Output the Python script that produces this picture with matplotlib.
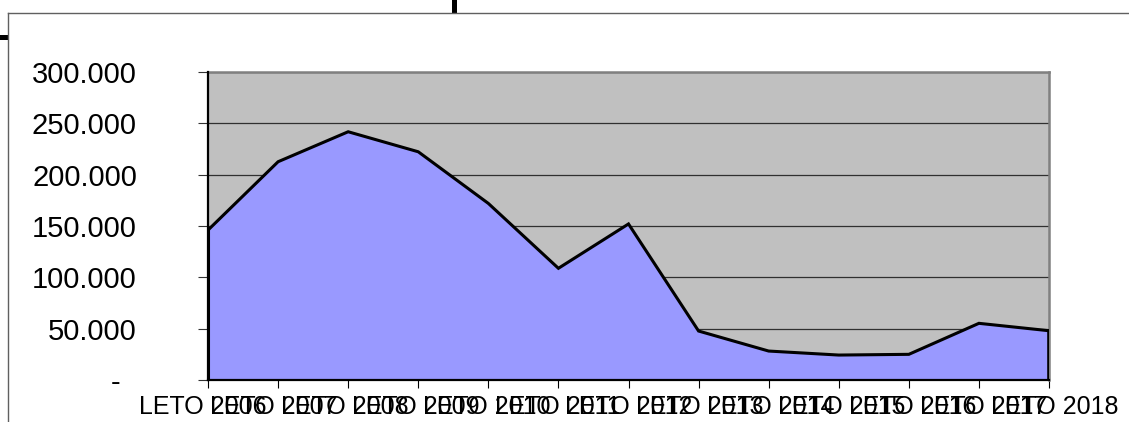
import matplotlib
matplotlib.use("Agg")
import matplotlib.pyplot as plt
from matplotlib.lines import Line2D
from matplotlib.patches import Rectangle
from matplotlib.transforms import ScaledTranslation

plt.rcParams['font.family'] = ['Liberation Sans', 'DejaVu Sans']

years = ["LETO 2006", "LETO 2007", "LETO 2008", "LETO 2009", "LETO 2010",
         "LETO 2011", "LETO 2012", "LETO 2013", "LETO 2014", "LETO 2015",
         "LETO 2016", "LETO 2017", "LETO 2018"]
values = [146000, 212600, 241800, 222300, 172000, 108800, 152000,
          47700, 28200, 24300, 25000, 55200, 48000]
yticks = [0, 50000, 100000, 150000, 200000, 250000, 300000]

W, H = 1129, 422
fig = plt.figure(figsize=(W / 100, H / 100), dpi=100)
fig.patch.set_facecolor('white')

left, right, top, bottom = 208, 1049, 72, 380
ax = fig.add_axes([left / W, 1 - bottom / H, (right - left) / W, (bottom - top) / H])
ax.set_facecolor('#C0C0C0')

x = list(range(len(values)))
ax.fill_between(x, values, 0, facecolor='#9999FF', edgecolor='none', zorder=2)
ax.plot(x, values, color='black', lw=2.2, zorder=3, solid_joinstyle='miter')
ax.plot([x[0], x[0]], [0, values[0]], color='black', lw=2.2, zorder=3)
ax.plot([x[-1], x[-1]], [0, values[-1]], color='black', lw=2.6, zorder=3)

ax.set_xlim(0, len(values) - 1)
ax.set_ylim(0, 300000)
ax.set_yticks(yticks)
ylabels = ['-\u2007' if v == 0 else f"{v:,.0f}".replace(',', '.') for v in yticks]
ax.set_yticklabels(ylabels, fontsize=21)
ax.set_xticks(x)
ax.set_xticklabels(years, fontsize=18)

ax.tick_params(axis='y', direction='out', length=7.2, width=0.8, color='#333333', pad=44)
ax.tick_params(axis='x', direction='out', length=5.8, width=0.8, color='black', pad=4.8)

# slight spreading of the overlapping category labels, as in the original rendering
for i, lab in enumerate(ax.get_xticklabels()):
    dx = (-5.0 + i * 0.9) / 100.0
    lab.set_transform(lab.get_transform() + ScaledTranslation(dx, 0, fig.dpi_scale_trans))

ax.set_axisbelow(True)
ax.grid(axis='y', color='#303030', lw=0.9)
ax.grid(axis='x', visible=False)

for s in ['left', 'bottom']:
    ax.spines[s].set_color('black')
    ax.spines[s].set_linewidth(1.6)
    ax.spines[s].set_zorder(4)
for s in ['top', 'right']:
    ax.spines[s].set_color('#808080')
    ax.spines[s].set_linewidth(1.8)

# outer chart border (top and left visible)
fig.add_artist(Line2D([8.3 / W, 8.3 / W], [0, 1 - 12.7 / H], color='#606060', lw=1.0))
fig.add_artist(Line2D([8.3 / W, 1], [1 - 12.7 / H, 1 - 12.7 / H], color='#606060', lw=1.0))
# selection handles
fig.add_artist(Rectangle((0, 1 - 40 / H), 8 / W, 5 / H, color='black', lw=0))
fig.add_artist(Rectangle((452 / W, 1 - 12.7 / H), 5 / W, 12.7 / H, color='black', lw=0))

fig.savefig('out.png', dpi=100, facecolor='white')
